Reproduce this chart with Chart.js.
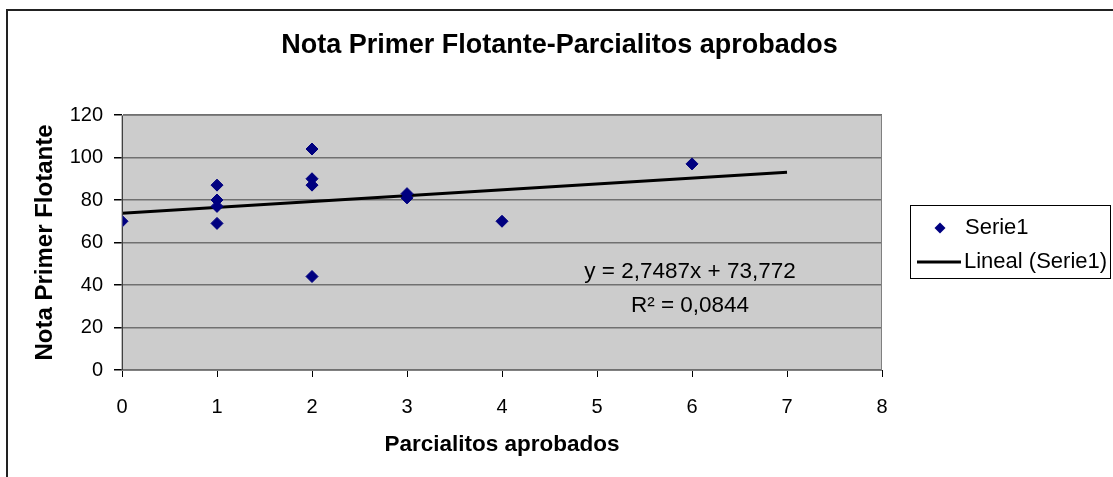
<!DOCTYPE html>
<html>
<head>
<meta charset="utf-8">
<title>Nota Primer Flotante-Parcialitos aprobados</title>
<script src="https://cdn.jsdelivr.net/npm/chart.js@4/dist/chart.umd.min.js"></script>
<style>
  html, body { margin: 0; padding: 0; background: #ffffff; }
  #wrap { width: 1113px; height: 477px; }
</style>
</head>
<body>
<div id="wrap"><canvas id="chart" width="1113" height="477"></canvas></div>
<script>
// Parcialitos aprobados (x) vs. Nota Primer Flotante (y)
const parcialitos = [0, 1, 1, 1, 1, 2, 2, 2, 2, 3, 3, 4, 6];
const notas       = [70, 87, 80, 77, 69, 104, 90, 87, 44, 83, 81, 70, 97];

// Linear trendline coefficients and fit quality
const pendiente = 2.7487;
const intercepto = 73.772;
const r2 = 0.0844;
const tendenciaX = [0, 7];

// Axis tick values
const xTicks = [0, 1, 2, 3, 4, 5, 6, 7, 8];
const yTicks = [0, 20, 40, 60, 80, 100, 120];

const titulo = 'Nota Primer Flotante-Parcialitos aprobados';
const serieLabel = 'Serie1';
const tendenciaLabel = 'Lineal (Serie1)';

const FONT = '"Liberation Sans", Arial, Helvetica, sans-serif';
const NAVY = '#000080';

const puntos = parcialitos.map((x, i) => ({ x: x, y: notas[i] }));
const tendencia = tendenciaX.map(x => ({ x: x, y: intercepto + pendiente * x }));

const fmt = (v, d) => v.toFixed(d).replace('.', ',');

// Gray plot background, outer frame and centered title
const frame = {
  id: 'frame',
  beforeDraw(chart) {
    const { ctx, chartArea: a } = chart;
    ctx.save();
    ctx.fillStyle = '#ffffff';
    ctx.fillRect(0, 0, chart.width, chart.height);
    ctx.fillStyle = '#cccccc';
    ctx.fillRect(a.left, a.top, a.right - a.left, a.bottom - a.top);
    ctx.restore();
  },
  afterDraw(chart) {
    const { ctx, chartArea: a } = chart;
    ctx.save();
    ctx.strokeStyle = '#808080';
    ctx.lineWidth = 1;
    ctx.strokeRect(a.left, a.top + 0.5, a.right - a.left - 0.5, a.bottom - a.top);
    ctx.strokeStyle = '#222222';
    ctx.lineWidth = 2;
    ctx.strokeRect(7, 10, 1130, 480);
    ctx.fillStyle = '#000000';
    ctx.font = 'bold 27px ' + FONT;
    ctx.textAlign = 'center';
    ctx.textBaseline = 'middle';
    ctx.fillText(titulo, 559.5, 46);
    ctx.restore();
  }
};

// Trendline equation and R² annotation
const ecuacion = {
  id: 'ecuacion',
  afterDatasetsDraw(chart) {
    const { ctx, chartArea: a } = chart;
    const cx = a.left + 568;
    ctx.save();
    ctx.fillStyle = '#000000';
    ctx.font = '22.5px ' + FONT;
    ctx.textAlign = 'center';
    ctx.textBaseline = 'middle';
    ctx.fillText('y = ' + fmt(pendiente, 4) + 'x + ' + fmt(intercepto, 3), cx, a.top + 157);
    ctx.fillText('R\u00B2 = ' + fmt(r2, 4), cx, a.top + 191);
    ctx.restore();
  }
};

// Boxed legend to the right of the plot
const leyenda = {
  id: 'leyenda',
  afterDraw(chart) {
    const { ctx } = chart;
    const ds = chart.data.datasets;
    ctx.save();
    ctx.fillStyle = '#ffffff';
    ctx.fillRect(910, 205, 200, 73);
    ctx.strokeStyle = '#000000';
    ctx.lineWidth = 1;
    ctx.strokeRect(910.5, 205.5, 200, 73);
    // marker entry
    const mx = 940, my = 228, r = 5.5;
    ctx.fillStyle = ds[0].backgroundColor;
    ctx.beginPath();
    ctx.moveTo(mx, my - r);
    ctx.lineTo(mx + r, my);
    ctx.lineTo(mx, my + r);
    ctx.lineTo(mx - r, my);
    ctx.closePath();
    ctx.fill();
    // line entry
    ctx.strokeStyle = ds[1].borderColor;
    ctx.lineWidth = 3;
    ctx.beginPath();
    ctx.moveTo(917, 262);
    ctx.lineTo(961, 262);
    ctx.stroke();
    ctx.fillStyle = '#000000';
    ctx.font = '22px ' + FONT;
    ctx.textAlign = 'left';
    ctx.textBaseline = 'middle';
    ctx.fillText(ds[0].label, 965, 228);
    ctx.fillText(ds[1].label, 964, 262);
    ctx.restore();
  }
};

new Chart(document.getElementById('chart'), {
  type: 'scatter',
  data: {
    datasets: [
      {
        label: serieLabel,
        data: puntos,
        backgroundColor: NAVY,
        borderColor: NAVY,
        borderWidth: 1,
        pointStyle: 'rectRot',
        pointRadius: 6,
        pointHoverRadius: 6
      },
      {
        label: tendenciaLabel,
        data: tendencia,
        showLine: true,
        borderColor: '#000000',
        borderWidth: 3,
        pointRadius: 0,
        pointHoverRadius: 0,
        fill: false
      }
    ]
  },
  options: {
    responsive: false,
    animation: false,
    events: [],
    layout: { padding: { left: 0, right: 231, top: 115, bottom: 0 } },
    plugins: {
      legend: { display: false },
      tooltip: { enabled: false },
      title: { display: false }
    },
    scales: {
      x: {
        type: 'linear',
        min: xTicks[0],
        max: xTicks[xTicks.length - 1],
        afterBuildTicks(scale) { scale.ticks = xTicks.map(v => ({ value: v })); },
        afterFit(scale) { scale.height = 107; },
        border: { display: true, color: '#000000', width: 1 },
        grid: { display: true, drawOnChartArea: false, drawTicks: true, tickLength: 7, tickColor: '#000000' },
        ticks: {
          color: '#000000',
          padding: 18,
          maxRotation: 0,
          font: { family: FONT, size: 20 }
        },
        title: {
          display: true,
          text: 'Parcialitos aprobados',
          color: '#000000',
          font: { family: FONT, size: 22.5, weight: 'bold', lineHeight: 1.2 },
          padding: { top: 0, bottom: 19 }
        }
      },
      y: {
        type: 'linear',
        min: yTicks[0],
        max: yTicks[yTicks.length - 1],
        afterBuildTicks(scale) { scale.ticks = yTicks.map(v => ({ value: v })); },
        afterFit(scale) { scale.width = 122; },
        border: { display: true, color: '#000000', width: 1 },
        grid: { color: '#707070', lineWidth: 1.5, drawTicks: true, tickLength: 8, tickColor: '#000000' },
        ticks: {
          color: '#000000',
          padding: 11,
          font: { family: FONT, size: 20 }
        },
        title: {
          display: true,
          text: 'Nota Primer Flotante',
          color: '#000000',
          font: { family: FONT, size: 24, weight: 'bold', lineHeight: 1.2 },
          padding: { top: 31, bottom: 0 }
        }
      }
    }
  },
  plugins: [frame, ecuacion, leyenda]
});
</script>
</body>
</html>
